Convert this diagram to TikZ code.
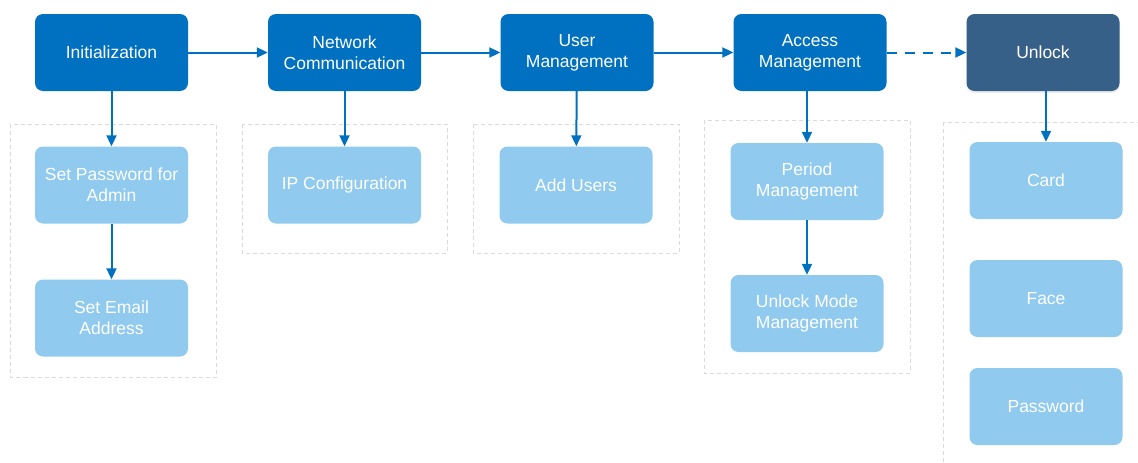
\documentclass[tikz,border=0pt]{standalone}
\usepackage{fontspec}
\setmainfont{Liberation Sans}
\usetikzlibrary{arrows.meta,shadows}
\definecolor{stageblue}{HTML}{0070C0}
\definecolor{unlockblue}{HTML}{376089}
\definecolor{taskblue}{HTML}{90CAEE}
\definecolor{framegray}{HTML}{DADADA}
\begin{document}
\begin{tikzpicture}[x=1pt, y=-1pt,
    stage/.style={rectangle, rounded corners=8pt, fill=stageblue, text=white, inner sep=0pt,
      minimum width=153pt, minimum height=77pt, align=center, font=\fontsize{17.5}{21}\selectfont},
    task/.style={stage, fill=taskblue},
    group/.style={draw=framegray, line width=0.8pt, dash pattern=on 4pt off 3pt},
    flow/.style={-{Triangle[length=11pt,width=10pt]}, line width=2pt, draw=stageblue}
]
\clip (0,0) rectangle (1138,463);

\draw[group] (10.5,124) rectangle (216,377);
\draw[group] (242,124) rectangle (447,253);
\draw[group] (473,124) rectangle (679,253);
\draw[group] (704,120) rectangle (910,373);
\draw[group] (943,122) rectangle (1160,480);

\node[stage] (init) at (111.5,52.5) {Initialization};
\node[stage] (net) at (344.5,52.5) {Network\\Communication};
\node[stage] (user) at (577,52.5) {User\\Management};
\node[stage] (access) at (810,52.5) {Access\\Management};
\node[stage, fill=unlockblue, drop shadow={opacity=0.15, shadow xshift=0pt, shadow yshift=-2pt}] (unlock) at (1043,52.5) {Unlock};

\node[task] (admin) at (111.5,185) {Set Password for\\Admin};
\node[task] (email) at (111.5,318) {Set Email\\Address};
\node[task] (ip) at (344.5,185) {IP Configuration};
\node[task] (add) at (576,185) {Add Users};
\node[task] (period) at (807,181.5) {Period\\Management};
\node[task] (mode) at (807,313.5) {Unlock Mode\\Management};
\node[task] (card) at (1046,180.5) {Card};
\node[task] (face) at (1046,298.5) {Face};
\node[task] (pwd) at (1046,406.5) {Password};

\draw[flow] (init) -- (net);
\draw[flow] (net) -- (user);
\draw[flow] (user) -- (access);
\draw[flow, dash pattern=on 10pt off 8pt] (access) -- (unlock);

\draw[flow] (init) -- (admin);
\draw[flow] (admin) -- (email);
\draw[flow] (net) -- (ip);
\draw[flow] (user) -- (add);
\draw[flow] (access.south -| period) -- (period);
\draw[flow] (period) -- (mode);
\draw[flow] (unlock.south -| card) -- (card);

\end{tikzpicture}
\end{document}
